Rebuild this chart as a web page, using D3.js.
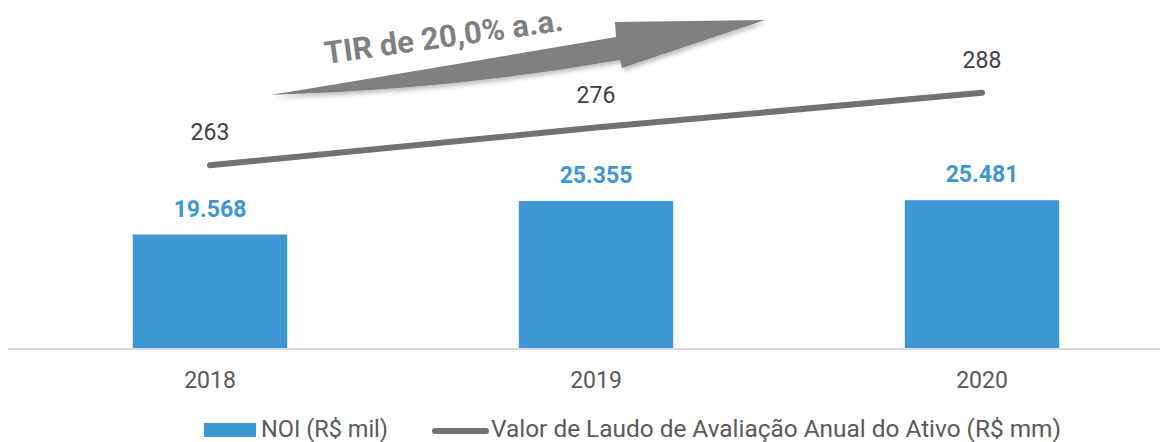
<!DOCTYPE html>
<html>
<head>
<meta charset="utf-8">
<script src="https://cdn.jsdelivr.net/npm/d3@7"></script>
<style>
  body { margin: 0; background: #fff; }
  svg { display: block; font-family: Roboto, "Noto Sans", sans-serif; }
</style>
</head>
<body>
<svg id="chart"></svg>
<script>
const years = ["2018", "2019", "2020"];
const noi = [19568, 25355, 25481];
const laudo = [263, 276, 288];
const noiLabels = ["19.568", "25.355", "25.481"];
const seriesNames = ["NOI (R$ mil)", "Valor de Laudo de Avaliação Anual do Ativo (R$ mm)"];
const tirText = "TIR de 20,0% a.a.";

const width = 1160, height = 442;
const baseY = 348;
const blue = "#3E96D3", gray = "#767171", textColor = "#404040", tickColor = "#595959";

const svg = d3.select("#chart").attr("width", width).attr("height", height);

const x = d3.scaleBand().domain(years).range([17, 1175]).paddingInner(0.6).paddingOuter(0.3);
const y = d3.scaleLinear().domain([0, 60000]).range([baseY, 0]);
const y2 = d3.scaleLinear().domain([200, 320]).range([baseY, 0]);

// bars
svg.selectAll("rect.bar")
    .data(noi)
    .enter()
    .append("rect")
    .attr("class", "bar")
    .attr("x", (d, i) => x(years[i]))
    .attr("y", d => y(d))
    .attr("width", x.bandwidth())
    .attr("height", d => baseY - y(d))
    .attr("fill", blue);

svg.selectAll("text.barlabel")
    .data(noi)
    .enter()
    .append("text")
    .attr("x", (d, i) => x(years[i]) + x.bandwidth() / 2)
    .attr("y", d => y(d) - 18)
    .attr("text-anchor", "middle")
    .attr("font-size", 23)
    .attr("font-weight", "bold")
    .attr("fill", blue)
    .text((d, i) => noiLabels[i]);

// baseline axis
svg.append("line")
    .attr("x1", 8).attr("x2", width)
    .attr("y1", baseY + 1).attr("y2", baseY + 1)
    .attr("stroke", "#d9d9d9").attr("stroke-width", 2);

const xAxis = d3.axisBottom(x).tickSize(0).tickPadding(0);
const gx = svg.append("g")
    .attr("transform", `translate(0, ${baseY})`)
    .call(xAxis);
gx.select(".domain").remove();
gx.selectAll("text")
    .attr("y", 40)
    .attr("dy", 0)
    .attr("font-size", 23)
    .attr("font-family", "Roboto, sans-serif")
    .attr("fill", tickColor);

// line
const line = d3.line()
    .x((d, i) => x(years[i]) + x.bandwidth() / 2)
    .y(d => y2(d));
svg.append("path")
    .datum(laudo)
    .attr("d", line)
    .attr("fill", "none")
    .attr("stroke", gray)
    .attr("stroke-width", 6)
    .attr("stroke-linecap", "round");

svg.selectAll("text.linelabel")
    .data(laudo)
    .enter()
    .append("text")
    .attr("x", (d, i) => x(years[i]) + x.bandwidth() / 2)
    .attr("y", d => y2(d) - 25)
    .attr("text-anchor", "middle")
    .attr("font-size", 23)
    .attr("fill", textColor)
    .text(d => d);

// TIR arrow (decoration)
const defs = svg.append("defs");
const f = defs.append("filter").attr("id", "shadow").attr("x", "-10%").attr("y", "-30%").attr("width", "120%").attr("height", "160%");
f.append("feDropShadow").attr("dx", 2).attr("dy", 3).attr("stdDeviation", 2).attr("flood-color", "#000").attr("flood-opacity", 0.25);

const ap = d3.path();
ap.moveTo(270, 95);
ap.quadraticCurveTo(470, 62, 616, 37);
ap.lineTo(615, 22);
ap.lineTo(765, 20);
ap.lineTo(622, 68);
ap.lineTo(620, 60);
ap.quadraticCurveTo(450, 90, 270, 95);
ap.closePath();
svg.append("path")
    .attr("d", ap.toString())
    .attr("fill", "#808080")
    .attr("filter", "url(#shadow)");

svg.append("text")
    .attr("transform", "translate(326, 64) rotate(-8)")
    .attr("font-size", 31)
    .attr("font-weight", "bold")
    .attr("fill", "#7f7f7f")
    .text(tirText);

// legend
const lg = svg.append("g");
lg.append("rect").attr("x", 204).attr("y", 423).attr("width", 52).attr("height", 14).attr("fill", blue);
lg.append("text").attr("x", 261).attr("y", 437).attr("font-size", 23).attr("fill", tickColor)
    .attr("textLength", 127).attr("lengthAdjust", "spacingAndGlyphs").text(seriesNames[0]);
lg.append("line").attr("x1", 435).attr("x2", 486).attr("y1", 431).attr("y2", 431)
    .attr("stroke", gray).attr("stroke-width", 6).attr("stroke-linecap", "round");
lg.append("text").attr("x", 491).attr("y", 437).attr("font-size", 23).attr("fill", tickColor)
    .attr("textLength", 570).attr("lengthAdjust", "spacingAndGlyphs").text(seriesNames[1]);
</script>
</body>
</html>
